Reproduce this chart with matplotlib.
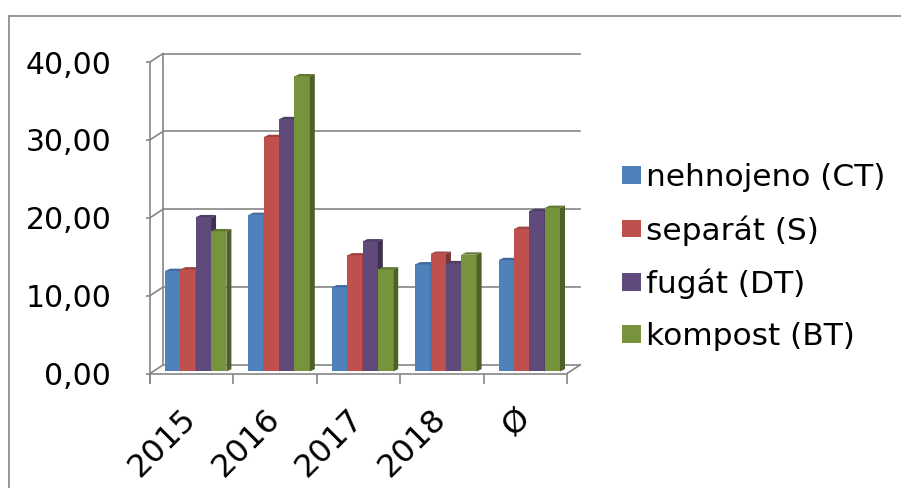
#!/usr/bin/env python3
"""Pseudo-3D clustered column chart (Excel style) with legend on the right."""

import numpy as np
import matplotlib
matplotlib.use('Agg')
import matplotlib.pyplot as plt
import matplotlib.colors as mcolors
from matplotlib.patches import Polygon, Patch
from matplotlib.lines import Line2D

# ---------------------------------------------------------------------------
# Data
# ---------------------------------------------------------------------------
categories = ['2015', '2016', '2017', '2018', 'Ø']
series_names = ['nehnojeno (CT)', 'separát (S)', 'fugát (DT)', 'kompost (BT)']
nehnojeno = [12.9, 20.1, 10.8, 13.75, 14.3]
separat = [13.1, 30.1, 14.9, 15.1, 18.3]
fugat = [19.8, 32.4, 16.7, 13.9, 20.6]
kompost = [18.0, 37.9, 13.1, 15.0, 21.0]
y_ticks = [0, 10, 20, 30, 40]
y_tick_labels = ['0,00', '10,00', '20,00', '30,00', '40,00']

series_values = [nehnojeno, separat, fugat, kompost]
face_colors = ['#4F81BD', '#C0504D', '#5F4A7B', '#77933C']

# ---------------------------------------------------------------------------
# Geometry of the fake 3D look (in data units)
# ---------------------------------------------------------------------------
wall_dx, wall_dy = 0.156, 1.09     # back wall offset
bar_dx, bar_dy = 0.06, 0.30        # bar depth
bar_off, bar_w = 0.18, 0.184       # bar start inside a category, bar width
bar_y0 = 0.26                      # bars stand a bit behind the front edge
grid_color = '#868686'
lw = 1.2


def shade(color, f):
    rgb = np.array(mcolors.to_rgb(color))
    return tuple(np.clip(rgb * f, 0, 1))


fig = plt.figure(figsize=(9.01, 4.88), dpi=100)
ax = fig.add_axes([150 / 901, 114.5 / 488, 417 / 901, 311.5 / 488])
ax.set_xlim(0, len(categories))
ax.set_ylim(0, 40)
ax.patch.set_visible(False)
for sp in ax.spines.values():
    sp.set_visible(False)

n_cat = len(categories)

# back wall gridlines + connecting diagonals
for v in y_ticks:
    ax.plot([wall_dx, n_cat + wall_dx], [v + wall_dy, v + wall_dy],
            color=grid_color, lw=lw, clip_on=False, zorder=1)
    ax.plot([0, wall_dx], [v, v + wall_dy],
            color=grid_color, lw=lw, clip_on=False, zorder=1)
ax.plot([wall_dx, wall_dx], [wall_dy, 40 + wall_dy],
        color=grid_color, lw=lw, clip_on=False, zorder=1)

# floor front edge and right diagonal
ax.plot([0, n_cat], [0, 0], color=grid_color, lw=lw, clip_on=False, zorder=1)
ax.plot([n_cat, n_cat + wall_dx], [0, wall_dy],
        color=grid_color, lw=lw, clip_on=False, zorder=1)
# front value axis
ax.plot([0, 0], [-1.25, 40], color=grid_color, lw=lw, clip_on=False, zorder=1)

# ---------------------------------------------------------------------------
# Bars
# ---------------------------------------------------------------------------
cat_x = np.arange(n_cat)
for i, (vals, col) in enumerate(zip(series_values, face_colors)):
    xl = cat_x + bar_off + i * bar_w
    ax.bar(xl, vals, width=bar_w, bottom=bar_y0, align='edge',
           color=col, linewidth=0, zorder=2 + i)
    for x0, v in zip(xl, vals):
        x1 = x0 + bar_w
        top = bar_y0 + v
        side = Polygon([(x1, bar_y0), (x1 + bar_dx, bar_y0 + bar_dy),
                        (x1 + bar_dx, top + bar_dy), (x1, top)],
                       closed=True, facecolor=shade(col, 0.65),
                       edgecolor='none', zorder=2 + i)
        cap = Polygon([(x0, top), (x0 + bar_dx, top + bar_dy),
                       (x1 + bar_dx, top + bar_dy), (x1, top)],
                      closed=True, facecolor=shade(col, 0.82),
                      edgecolor='none', zorder=2 + i)
        ax.add_patch(side)
        ax.add_patch(cap)

# ---------------------------------------------------------------------------
# Ticks and labels
# ---------------------------------------------------------------------------
ax.set_yticks(y_ticks)
ax.set_yticklabels(y_tick_labels)
ax.tick_params(axis='y', direction='out', length=2.9, width=lw,
               color=grid_color, pad=25, labelsize=21.5, labelcolor='black')

ax.set_xticks(cat_x + 0.5)
ax.set_xticklabels(categories, rotation=45, ha='right', va='center',
                   rotation_mode='anchor')
ax.set_xticks(np.arange(n_cat + 1), minor=True)
ax.tick_params(axis='x', which='major', length=0, pad=29, labelsize=23)
ax.tick_params(axis='x', which='minor', direction='out', length=7.2,
               width=lw, color=grid_color)

# ---------------------------------------------------------------------------
# Legend
# ---------------------------------------------------------------------------
handles = [Patch(facecolor=c, edgecolor='none') for c in face_colors]
fig.legend(handles, series_names, loc='center left',
           bbox_to_anchor=(622 / 901, 1 - 257 / 488), frameon=False,
           fontsize=22.5, handlelength=0.62, handleheight=0.5,
           handletextpad=0.15, labelspacing=0.73, borderpad=0,
           borderaxespad=0)

# outer chart frame (top and left edges visible)
fig.add_artist(Line2D([9 / 901, 1.0], [1 - 16 / 488, 1 - 16 / 488],
                      color=grid_color, lw=lw, transform=fig.transFigure))
fig.add_artist(Line2D([9 / 901, 9 / 901], [0, 1 - 16 / 488],
                      color=grid_color, lw=lw, transform=fig.transFigure))

fig.savefig('out.png', dpi=100)
plt.close(fig)
